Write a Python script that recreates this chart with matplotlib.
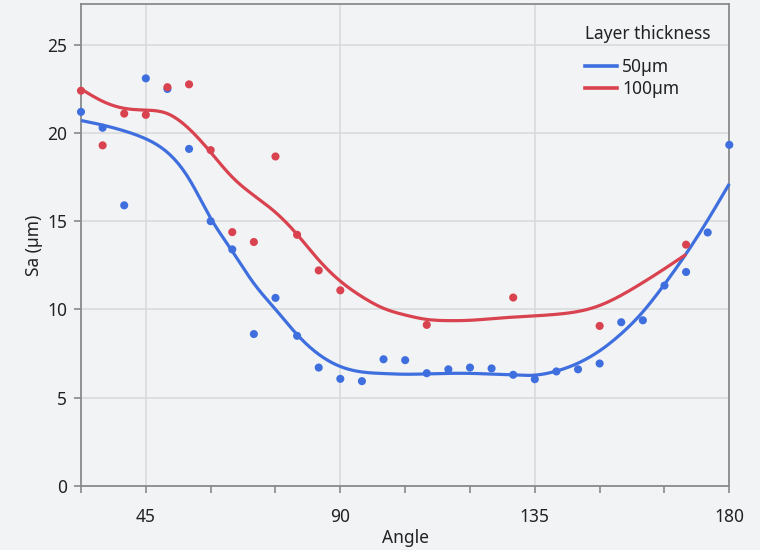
import numpy as np
import matplotlib
matplotlib.use("Agg")
import matplotlib.pyplot as plt
from matplotlib.ticker import FixedLocator, NullFormatter
from matplotlib.lines import Line2D

# ---------------- data ----------------
angle_50 = [30, 35, 40, 45, 50, 55, 60, 65, 70, 75, 80, 85, 90, 95, 100, 105, 110,
            115, 120, 125, 130, 135, 140, 145, 150, 155, 160, 165, 170, 175, 180]
sa_50 = [21.2, 20.3, 15.9, 23.1, 22.5, 19.1, 15.0, 13.4, 8.6, 10.65, 8.5, 6.7, 6.06,
         5.93, 7.17, 7.12, 6.38, 6.6, 6.7, 6.65, 6.29, 6.04, 6.48, 6.6, 6.93, 9.27,
         9.38, 11.35, 12.12, 14.36, 19.33]

angle_100 = [30, 35, 40, 45, 50, 55, 60, 65, 70, 75, 80, 85, 90, 110, 130, 150, 170]
sa_100 = [22.4, 19.3, 21.1, 21.03, 22.6, 22.76, 19.03, 14.38, 13.82, 18.67, 14.23,
          12.21, 11.08, 9.12, 10.67, 9.06, 13.67]

# smoothed trend lines
fit_angle_50 = [30, 35, 40, 45, 50, 55, 60, 65, 70, 75, 80, 85, 90, 95, 100, 105, 110,
                115, 120, 125, 130, 135, 140, 145, 150, 155, 160, 165, 170, 175, 180]
fit_sa_50 = [20.71, 20.45, 20.12, 19.67, 18.9, 17.4, 15.17, 13.3, 11.47, 10.0, 8.57,
             7.45, 6.76, 6.45, 6.36, 6.32, 6.34, 6.37, 6.37, 6.33, 6.28, 6.27, 6.5, 6.95,
             7.65, 8.62, 9.86, 11.42, 13.15, 15.06, 17.12]

fit_angle_100 = [30, 35, 40, 45, 50, 55, 60, 65, 70, 75, 80, 85, 90, 95, 100, 105, 110,
                 115, 120, 125, 130, 135, 140, 145, 150, 155, 160, 165, 170]
fit_sa_100 = [22.5, 21.8, 21.4, 21.3, 21.1, 20.24, 18.91, 17.5, 16.46, 15.5, 14.25,
              12.8, 11.6, 10.72, 10.06, 9.68, 9.43, 9.36, 9.38, 9.47, 9.56, 9.63, 9.72,
              9.88, 10.22, 10.8, 11.52, 12.3, 13.12]

series_names = ["50µm", "100µm"]
legend_title = "Layer thickness"
x_ticks_labelled = [45, 90, 135, 180]
x_ticks_minor = [30, 60, 75, 105, 120, 150, 165]
y_ticks = [0, 5, 10, 15, 20, 25]


def smooth_render(x, y, per=10):
    """Natural cubic spline rendering of a polyline (smooth curve drawing)."""
    x = np.asarray(x, float); y = np.asarray(y, float)
    n = len(x)
    h = np.diff(x)
    A = np.zeros((n, n)); r = np.zeros(n)
    A[0, 0] = A[-1, -1] = 1.0
    for i in range(1, n - 1):
        A[i, i - 1] = h[i - 1]
        A[i, i] = 2 * (h[i - 1] + h[i])
        A[i, i + 1] = h[i]
        r[i] = 6 * ((y[i + 1] - y[i]) / h[i] - (y[i] - y[i - 1]) / h[i - 1])
    M = np.linalg.solve(A, r)
    xs, ys = [], []
    for i in range(n - 1):
        u = np.linspace(0, 1, per, endpoint=False)
        xx = x[i] + u * h[i]
        a = x[i + 1] - xx; b = xx - x[i]
        yy = (M[i] * a ** 3 + M[i + 1] * b ** 3) / (6 * h[i]) \
            + (y[i] / h[i] - M[i] * h[i] / 6) * a + (y[i + 1] / h[i] - M[i + 1] * h[i] / 6) * b
        xs.append(xx); ys.append(yy)
    xs.append([x[-1]]); ys.append([y[-1]])
    return np.concatenate(xs), np.concatenate(ys)


# ---------------- figure ----------------
bg = "#f2f3f5"
blue = "#3f6fdf"
red = "#d8434f"
txt = "#222222"
fs = 12.5
plt.rcParams['font.family'] = ['Noto Sans', 'DejaVu Sans']

fig = plt.figure(figsize=(7.6, 5.5), dpi=100, facecolor=bg)
ax = fig.add_axes([81 / 760, 1 - 485.7 / 550, (729.3 - 81) / 760, (485.7 - 4.3) / 550])
ax.set_facecolor(bg)

for fx, fy, col in [(fit_angle_50, fit_sa_50, blue), (fit_angle_100, fit_sa_100, red)]:
    cx, cy = smooth_render(fx, fy)
    ax.plot(cx, cy, color=col, lw=2.3, solid_capstyle='butt', zorder=3, clip_on=False)

ax.scatter(angle_50, sa_50, s=34, color=blue, edgecolors='none', zorder=4, clip_on=False)
ax.scatter(angle_100, sa_100, s=34, color=red, edgecolors='none', zorder=5, clip_on=False)

ax.set_xlim(30, 180)
ax.set_ylim(0, 27.3)
ax.xaxis.set_major_locator(FixedLocator(x_ticks_labelled))
ax.xaxis.set_minor_locator(FixedLocator(x_ticks_minor))
ax.xaxis.set_minor_formatter(NullFormatter())
ax.set_yticks(y_ticks)
ax.grid(True, which='major', color='#d9dadc', lw=1.2, zorder=0)
ax.set_axisbelow(True)
ax.tick_params(axis='both', which='both', length=5, width=1.1, color='#808080',
               labelsize=fs, labelcolor=txt)
ax.tick_params(axis='x', which='both', pad=11)
ax.tick_params(axis='y', which='both', pad=5)
for sp in ax.spines.values():
    sp.set_color('#8a8a8a'); sp.set_linewidth(1.3)
ax.set_xlabel("Angle", fontsize=fs, color=txt, labelpad=2)
ax.set_ylabel("Sa (µm)", fontsize=fs, color=txt, labelpad=3)

# legend
handles = [Line2D([], [], color=blue, lw=2.6), Line2D([], [], color=red, lw=2.6)]
leg = ax.legend(handles, series_names, loc='upper left', bbox_to_anchor=(504 / 648.3, 1 - 54 / 481.4),
                frameon=False, fontsize=fs, handlelength=1.85, handletextpad=0.3,
                labelspacing=0.22, borderaxespad=0, borderpad=0)
for t in leg.get_texts():
    t.set_color(txt)
ax.text(504 / 648.3, 1 - 30 / 481.4, legend_title, transform=ax.transAxes, fontsize=fs,
        color=txt, ha='left', va='center')

fig.savefig("out.png", dpi=100, facecolor=bg)
